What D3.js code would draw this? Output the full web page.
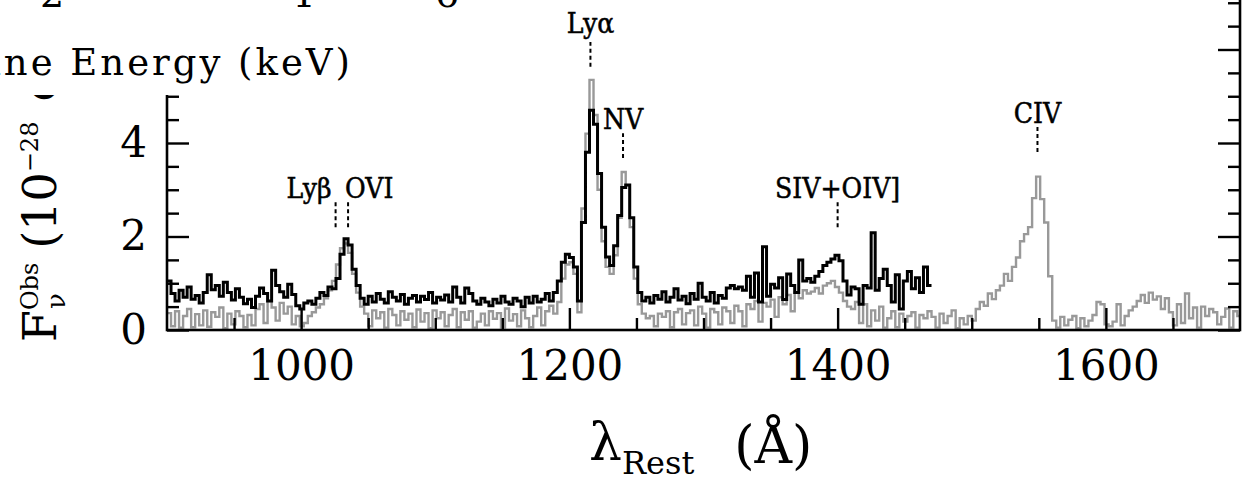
<!DOCTYPE html>
<html>
<head>
<meta charset="utf-8">
<script src="https://cdn.jsdelivr.net/npm/d3@7"></script>
<style>
  html, body { margin: 0; padding: 0; background: #fff; }
  svg { display: block; }
  text { font-family: "DejaVu Serif", serif; fill: #000; }
</style>
</head>
<body>
<script>
// Rest-frame spectra, 3 Å bins starting at 900 Å (flux in 1e-28 erg/s/cm2/Hz)
const binStart = 900;
const binWidth = 3;

// Black spectrum: 900–1470 Å
const blackFlux = [
  1.05, 0.78, 0.62, 0.85, 0.70, 0.92, 0.66, 0.74, 0.58, 0.80,
  1.18, 0.86, 0.95, 0.72, 1.02, 0.80, 0.64, 0.88, 0.70, 0.56,
  0.66, 0.48, 0.72, 0.90, 0.78, 0.62, 1.28, 0.95, 0.82, 0.70,
  0.98, 0.76, 0.52, 0.45, 0.58, 0.62, 0.55, 0.68, 0.80, 0.74,
  0.92, 0.88, 1.10, 1.62, 1.95, 1.82, 1.30, 0.95, 0.68, 0.55,
  0.72, 0.60, 0.78, 0.66, 0.58, 0.82, 0.70, 0.62, 0.76, 0.55,
  0.68, 0.74, 0.60, 0.72, 0.65, 0.80, 0.58, 0.70, 0.64, 0.75,
  0.60, 0.92, 0.70, 0.58, 0.90, 0.78, 0.62, 0.55, 0.68, 0.60,
  0.52, 0.66, 0.58, 0.72, 0.60, 0.55, 0.68, 0.62, 0.50, 0.70,
  0.58, 0.72, 0.60, 0.66, 0.78, 0.62, 0.80, 1.05, 1.45, 1.62,
  1.55, 1.35, 0.62, 2.30, 3.80, 4.70, 4.40, 3.35, 2.20, 1.56,
  1.38, 1.80, 2.45, 3.05, 3.10, 2.40, 1.35, 0.80, 0.62, 0.70,
  0.58, 0.74, 0.66, 0.82, 0.60, 0.70, 0.88, 0.64, 0.72, 0.56,
  0.78, 0.66, 1.00, 0.70, 0.62, 0.80, 0.58, 0.74, 0.68, 0.90,
  0.95, 0.88, 0.92, 0.85, 1.15, 0.70, 1.22, 0.60, 1.78, 0.72,
  0.98, 0.90, 1.12, 0.65, 1.20, 0.95, 0.80, 1.50, 1.05, 1.10,
  1.02, 1.15, 1.25, 1.38, 1.45, 1.52, 1.60, 1.48, 1.05, 0.75,
  0.92, 0.88, 0.55, 0.95, 0.90, 2.08, 0.85, 1.10, 1.30, 0.95,
  0.60, 1.18, 0.45, 1.05, 1.25, 0.88, 1.12, 0.80, 1.35, 0.95
];

// Grey spectrum: 900–1701 Å
const greyFlux = [
  0.36, 0.08, 0.40, 0.05, 0.30, 0.45, 0.06, 0.34, 0.10, 0.42,
  0.07, 0.38, 0.28, 0.48, 0.04, 0.35, 0.12, 0.40, 0.30, 0.06,
  0.32, 0.10, 0.45, 0.55, 0.15, 0.62, 0.48, 0.20, 0.58, 0.35,
  0.50, 0.12, 0.30, 0.08, 0.15, 0.30, 0.38, 0.48, 0.55, 0.68,
  0.85, 1.05, 1.40, 1.75, 1.85, 1.65, 1.20, 0.80, 0.50, 0.35,
  0.08, 0.42, 0.25, 0.38, 0.05, 0.45, 0.32, 0.10, 0.40, 0.22,
  0.35, 0.06, 0.44, 0.18, 0.36, 0.04, 0.42, 0.25, 0.38, 0.08,
  0.32, 0.45, 0.06, 0.38, 0.22, 0.40, 0.05, 0.18, 0.35, 0.10,
  0.40, 0.24, 0.36, 0.05, 0.46, 0.20, 0.34, 0.08, 0.42, 0.25,
  0.06, 0.30, 0.48, 0.10, 0.40, 0.52, 0.35, 0.60, 1.10, 1.40,
  1.45, 1.20, 0.38, 2.60, 4.20, 5.35, 4.60, 3.00, 1.90, 1.35,
  1.20, 1.60, 2.40, 3.38, 3.10, 2.20, 1.10, 0.55, 0.35, 0.25,
  0.30, 0.08, 0.35, 0.28, 0.40, 0.06, 0.38, 0.45, 0.12, 0.36,
  0.42, 0.10, 0.50, 0.35, 0.05, 0.45, 0.38, 0.12, 0.48, 0.40,
  0.15, 0.52, 0.40, 0.08, 0.55, 0.45, 0.62, 0.18, 0.58, 0.50,
  0.65, 0.28, 0.70, 0.55, 0.75, 0.40, 0.80, 0.68, 0.85, 0.78,
  0.82, 0.90, 0.78, 0.95, 1.00, 1.05, 0.92, 0.80, 0.62, 0.50,
  0.45, 0.60, 0.15, 0.55, 0.08, 0.42, 0.20, 0.50, 0.05, 0.25,
  0.40, 0.06, 0.35, 0.18, 0.30, 0.38, 0.05, 0.32, 0.25, 0.40,
  0.28, 0.05, 0.35, 0.15, 0.30, 0.42, 0.04, 0.25, 0.12, 0.30,
  0.20, 0.45, 0.60, 0.52, 0.78, 0.66, 0.85, 0.95, 1.20, 1.05,
  1.35, 1.55, 1.90, 2.05, 2.20, 2.82, 3.28, 2.80, 2.30, 1.15,
  0.20, 0.05, 0.28, 0.10, 0.22, 0.30, 0.04, 0.25, 0.08, 0.20,
  0.32, 0.60, 0.55, 0.12, 0.08, 0.18, 0.55, 0.10, 0.30, 0.42,
  0.50, 0.62, 0.75, 0.58, 0.80, 0.65, 0.72, 0.45, 0.68, 0.38,
  0.10, 0.55, 0.15, 0.78, 0.25, 0.48, 0.05, 0.50, 0.30, 0.45,
  0.38, 0.12, 0.28, 0.46, 0.05, 0.40, 0.30
];

// Emission-line identifications
const lineNames = ["Lyβ", "OVI", "Lyα", "NV", "SIV+OIV]", "CIV"];
const lineWaves = [1025.7, 1035, 1215.7, 1240, 1400, 1549];
const lineMarkLevel = [2.2, 2.2, 5.63, 3.68, 2.2, 3.81];   // flux where each tick mark starts
const lineAnchor = ["end", "start", "middle", "middle", "middle", "middle"];

// Axes
const xDomain = [900, 1700];
const yDomain = [0, 8];
const xMajorTicks = [1000, 1200, 1400, 1600];
const xMinorTicks = d3.range(950, 1700, 50).filter(v => v % 200 !== 0);
const yMajorTicks = [0, 2, 4, 6];
const yMinorTicks = [0.5, 1, 1.5, 2.5, 3, 3.5, 4.5, 5, 5.5, 6.5, 7, 7.5];
const yLabelTicks = [0, 2, 4];

// Energy axis of the panel above (only its lower edge shows)
const energyTicks = [2, 4, 6];

const W = 1249, H = 483;
const left = 167, right = 1240, bottom = 330;

const svg = d3.select("body").append("svg").attr("width", W).attr("height", H);

const x = d3.scaleLinear().domain(xDomain).range([left, right]);
const y = d3.scaleLinear().domain(yDomain).range([bottom, bottom - 46.75 * 8]);

svg.append("clipPath").attr("id", "plotclip")
  .append("rect").attr("x", left).attr("y", y(8)).attr("width", right - left).attr("height", bottom - y(8));

function stepPoints(values) {
  const pts = values.map((v, i) => [binStart + i * binWidth, v]);
  pts.push([binStart + values.length * binWidth, values[values.length - 1]]);
  return pts;
}
const stepLine = d3.line().x(d => x(d[0])).y(d => y(d[1])).curve(d3.curveStepAfter);

const plot = svg.append("g").attr("clip-path", "url(#plotclip)");
plot.append("path").datum(stepPoints(greyFlux))
  .attr("d", stepLine).attr("fill", "none").attr("stroke", "#999").attr("stroke-width", 2.4);
plot.append("path").datum(stepPoints(blackFlux))
  .attr("d", stepLine).attr("fill", "none").attr("stroke", "#000").attr("stroke-width", 3);

// Tick marks (drawn inward) and labels
function styleAxis(g) {
  g.select(".domain").remove();
  g.selectAll(".tick line").attr("stroke", "#000").attr("stroke-width", 2.4);
  g.selectAll(".tick text").style("font-family", "'DejaVu Serif', serif").style("font-size", "42px").attr("fill", "#000");
}

svg.append("g").attr("transform", `translate(0,${bottom})`)
  .call(d3.axisBottom(x).tickValues(xMajorTicks).tickSize(-22).tickPadding(20).tickFormat(d3.format("d")))
  .call(styleAxis);
svg.append("g").attr("transform", `translate(0,${bottom})`)
  .call(d3.axisBottom(x).tickValues(xMinorTicks).tickSize(-12).tickFormat(""))
  .call(styleAxis);

svg.append("g").attr("transform", `translate(${left},0)`)
  .call(d3.axisLeft(y).tickValues(yMajorTicks).tickSize(-22).tickPadding(20)
    .tickFormat(d => yLabelTicks.includes(d) ? d3.format("d")(d) : ""))
  .call(styleAxis);
svg.append("g").attr("transform", `translate(${left},0)`)
  .call(d3.axisLeft(y).tickValues(yMinorTicks).tickSize(-12).tickFormat(""))
  .call(styleAxis);

svg.append("g").attr("transform", `translate(${right},0)`)
  .call(d3.axisRight(y).tickValues(yMajorTicks).tickSize(-22).tickFormat(""))
  .call(styleAxis);
svg.append("g").attr("transform", `translate(${right},0)`)
  .call(d3.axisRight(y).tickValues(yMinorTicks).tickSize(-12).tickFormat(""))
  .call(styleAxis);

// Frame
svg.append("rect").attr("x", left).attr("y", y(8)).attr("width", right - left).attr("height", bottom - y(8))
  .attr("fill", "none").attr("stroke", "#000").attr("stroke-width", 2.6);

// Line identification marks and names
const markLen = 0.53;
const ids = svg.append("g");
lineNames.forEach((name, i) => {
  const lx = x(lineWaves[i]);
  const y0 = y(lineMarkLevel[i]);
  const y1 = y(lineMarkLevel[i] + markLen);
  ids.append("line").attr("x1", lx).attr("x2", lx).attr("y1", y0).attr("y2", y1)
    .attr("stroke", "#000").attr("stroke-width", 2).attr("stroke-dasharray", "4,3");
  const dx = lineAnchor[i] === "end" ? -4 : (lineAnchor[i] === "start" ? -3 : 0);
  ids.append("text").attr("x", lx + dx).attr("y", y1 - (name === "Lyα" ? 9 : 4))
    .attr("text-anchor", lineAnchor[i])
    .attr("stroke", "#000").attr("stroke-width", 0.5)
    .style("font-size", "28px").style("font-stretch", "condensed")
    .text(name);
});

// x-axis title
const xt = svg.append("text").attr("x", 589).attr("y", 460).style("font-size", "52px");
xt.append("tspan").text("λ");
xt.append("tspan").attr("dy", 14).style("font-size", "32px").text("Rest");
xt.append("tspan").attr("dx", 40).attr("dy", -11).text("(Å)");

// y-axis title, reading upward
const yt = svg.append("g").attr("transform", "translate(56,342) rotate(-90)");
const fTxt = yt.append("text").attr("x", 0).attr("y", 0).style("font-size", "46px").text("F");
const fW = fTxt.node().getComputedTextLength();
const supTxt = yt.append("text").attr("x", fW).attr("y", -18).style("font-size", "24px").text("Obs");
yt.append("text").attr("x", fW + 1).attr("y", 9).style("font-size", "26px").text("ν");
const supW = supTxt.node().getComputedTextLength();
const unit = yt.append("text").attr("x", fW + supW + 14).attr("y", 0).style("font-size", "46px");
unit.append("tspan").text("(10");
unit.append("tspan").attr("dy", -18).style("font-size", "24px").text("−28");
unit.append("tspan").attr("dy", 18).attr("dx", 20).text("erg");

// Panel above: its x-axis title and tick labels overlap the top-left corner
svg.append("rect").attr("x", 0).attr("y", 0).attr("width", 192).attr("height", 95).attr("fill", "#fff");
const eScale = d3.scaleLog().domain([2, 6]).range([52, 447]);
svg.append("g").selectAll("text").data(energyTicks).join("text")
  .attr("x", d => eScale(d)).attr("y", 7).attr("text-anchor", "middle")
  .style("font-size", "38px")
  .text(d => d);
svg.append("text").attr("x", 353).attr("y", 75).attr("text-anchor", "end")
  .style("font-size", "37px").style("letter-spacing", "3px")
  .text("Line Energy (keV)");
</script>
</body>
</html>
